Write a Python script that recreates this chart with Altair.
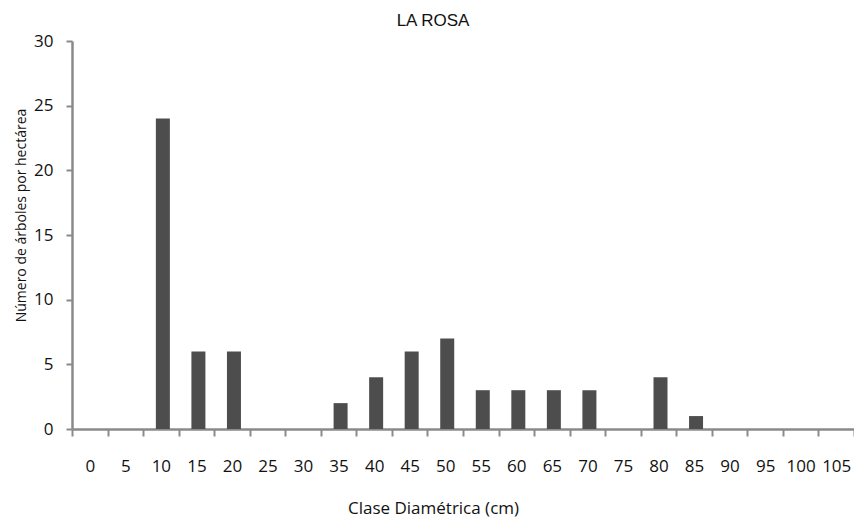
import altair as alt
import pandas as pd

clases = [0, 5, 10, 15, 20, 25, 30, 35, 40, 45, 50, 55, 60, 65, 70, 75, 80, 85, 90, 95, 100, 105]
arboles = [0, 0, 24, 6, 6, 0, 0, 2, 4, 6, 7, 3, 3, 3, 3, 0, 4, 1, 0, 0, 0, 0]

df = pd.DataFrame({"clase": [str(c) for c in clases], "n": arboles})
orden = [str(c) for c in clases]

bars = alt.Chart(df).mark_bar(size=14, color="#4d4d4d", xOffset=2).encode(
    x=alt.X("clase:N", sort=orden,
            scale=alt.Scale(paddingInner=0, paddingOuter=0),
            axis=alt.Axis(title="Clase Diamétrica (cm)", labelAngle=0, tickBand="extent",
                          labelOverlap=False, labelFont="Open Sans", labelFontSize=17,
                          labelColor="#111111", labelPadding=30, labelBaseline="middle",
                          domainColor="#8a8a8a", domainWidth=2.5, tickColor="#8a8a8a",
                          tickWidth=2, tickSize=7,
                          titleFont="Open Sans", titleFontSize=17, titleFontWeight="normal",
                          titleColor="#111111", titleX=361, titleY=79, titleBaseline="middle")),
    y=alt.Y("n:Q", scale=alt.Scale(domain=[0, 30]),
            axis=alt.Axis(title="Número de árboles por hectárea", values=[0, 5, 10, 15, 20, 25, 30],
                          grid=False, labelFont="Open Sans", labelFontSize=17,
                          labelColor="#111111", labelPadding=13,
                          domainColor="#8a8a8a", domainWidth=2.5, tickColor="#8a8a8a",
                          tickWidth=2, tickSize=6,
                          titleFont="Open Sans", titleFontSize=14, titleFontWeight="normal",
                          titleColor="#111111", titleX=-51, titleY=174, titleAngle=-90,
                          titleBaseline="middle")),
)

chart = bars.properties(
    width=782, height=388,
    title=alt.TitleParams("LA ROSA", font="Liberation Sans", fontSize=17, fontWeight="normal",
                          color="#111111", offset=2, dx=-30),
    autosize=alt.AutoSizeParams(type="none"),
    padding={"left": 64, "top": 33, "right": 0, "bottom": 92},
).configure_view(stroke=None)

chart.save("out.html", embed_options={"renderer": "svg", "actions": False})
